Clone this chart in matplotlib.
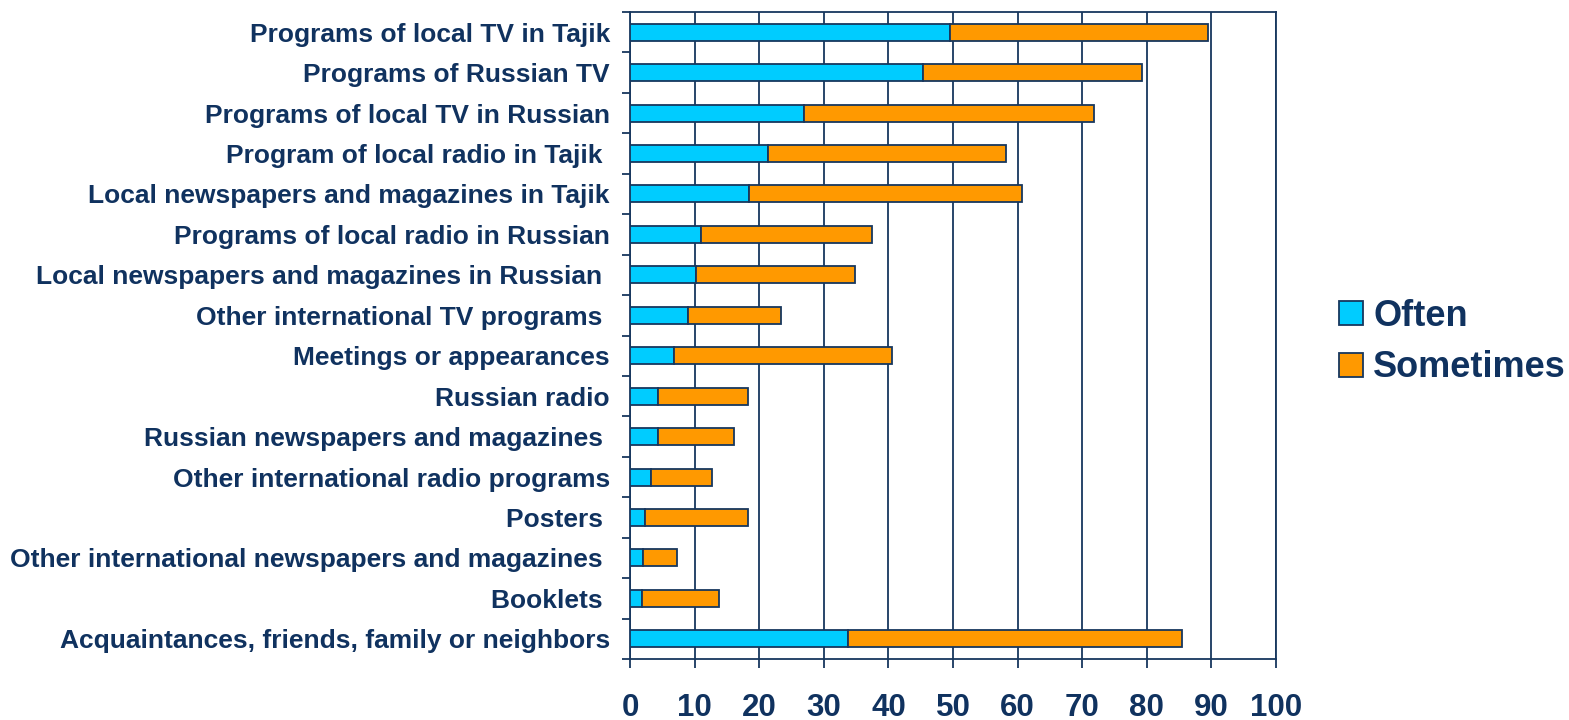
import numpy as np
import matplotlib
matplotlib.use("Agg")
import matplotlib.pyplot as plt

NAVY = "#17375E"
TEXT = "#10325F"

categories = [
    "Programs of local TV in Tajik",
    "Programs of Russian TV",
    "Programs of local TV in Russian",
    "Program of local radio in Tajik ",
    "Local newspapers and magazines in Tajik",
    "Programs of local radio in Russian",
    "Local newspapers and magazines in Russian ",
    "Other international TV programs ",
    "Meetings or appearances",
    "Russian radio",
    "Russian newspapers and magazines ",
    "Other international radio programs",
    "Posters ",
    "Other international newspapers and magazines ",
    "Booklets ",
    "Acquaintances, friends, family or neighbors",
]
often = [49.5, 45.3, 27.0, 21.3, 18.4, 11.0, 10.2, 9.0, 6.8, 4.3, 4.3, 3.2, 2.3, 2.0, 1.8, 33.7]
total = [89.4, 79.2, 71.8, 58.2, 60.7, 37.4, 34.9, 23.3, 40.6, 18.2, 16.1, 12.7, 18.2, 7.3, 13.7, 85.4]
sometimes = [t - o for t, o in zip(total, often)]
xticks = list(range(0, 101, 10))

plt.rcParams['font.family'] = ['Liberation Sans', 'DejaVu Sans']
plt.rcParams['font.weight'] = 'bold'

fig = plt.figure(figsize=(15.69, 7.2), dpi=100)
# axes box in pixels: x 630..1276, y 12..659
ax = fig.add_axes([630/1569, 1-659/720, (1276-630)/1569, (659-12)/720])

y = np.arange(len(categories))
h = 0.42
ax.barh(y, often, height=h, color="#00CCFF", edgecolor=NAVY, linewidth=1.3, label="Often", zorder=3)
ax.barh(y, sometimes, left=often, height=h, color="#FF9900", edgecolor=NAVY, linewidth=1.3, label="Sometimes", zorder=3)

ax.set_xlim(0, 100)
ax.set_ylim(len(categories) - 0.5, -0.5)

ax.set_xticks(xticks)
ax.set_xticklabels([str(v) for v in xticks], fontsize=22.5, fontweight='bold', color=TEXT)
ax.set_yticks(y)
ax.set_yticklabels(categories, fontsize=19, fontweight='bold', color=TEXT)
ax.set_yticks(np.arange(len(categories) + 1) - 0.5, minor=True)

ax.tick_params(axis='y', which='major', length=0, pad=14.4)
ax.tick_params(axis='y', which='minor', length=5.8, width=1.3, color=NAVY, direction='out')
ax.tick_params(axis='x', which='major', length=6.5, width=1.3, color=NAVY, direction='out', pad=18)

ax.grid(axis='x', color=NAVY, linewidth=1.3, zorder=0)
ax.set_axisbelow(True)

for side in ['left', 'bottom', 'right', 'top']:
    ax.spines[side].set_color(NAVY)
    ax.spines[side].set_linewidth(1.3)

leg = fig.legend(loc='center left', bbox_to_anchor=(1321/1569, 1-342/720), frameon=False,
                 fontsize=26, handlelength=0.65, handleheight=0.65, handletextpad=0.3,
                 labelspacing=0.47, borderpad=0)
for t in leg.get_texts():
    t.set_color(TEXT)
    t.set_fontweight('bold')

fig.savefig("out.png", dpi=100)
